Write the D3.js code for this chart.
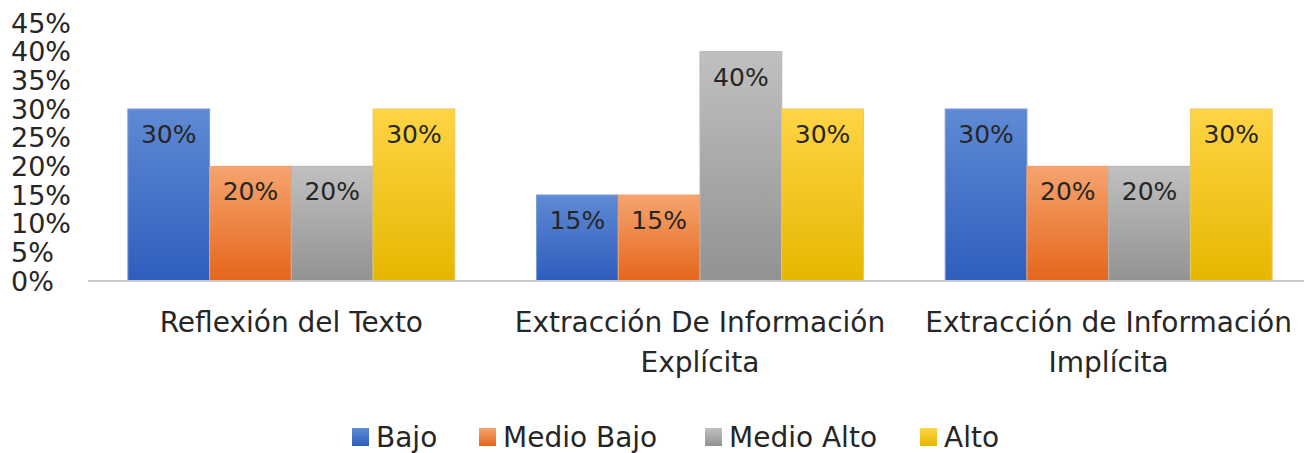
<!DOCTYPE html>
<html>
<head>
<meta charset="utf-8">
<script src="https://cdn.jsdelivr.net/npm/d3@7"></script>
<style>
  body { margin: 0; background: #fff; }
  text { font-family: "DejaVu Sans", sans-serif; fill: #262626; }
</style>
</head>
<body>
<div id="chart"></div>
<script>
// niveles de comprension lectora por dimension

var categories = [["Reflexión del Texto"], ["Extracción De Información", "Explícita"], ["Extracción de Información", "Implícita"]];
var series = ["Bajo", "Medio Bajo", "Medio Alto", "Alto"];
var bajo = [0.30, 0.15, 0.30];
var medioBajo = [0.20, 0.15, 0.20];
var medioAlto = [0.20, 0.40, 0.20];
var alto = [0.30, 0.30, 0.30];
var yTicks = [0, 0.05, 0.10, 0.15, 0.20, 0.25, 0.30, 0.35, 0.40, 0.45];

var param = {
    width: 1304,
    height: 453,
    left: 87,
    right: 1313,
    top: 23,
    base: 281,
    font: 25
};

var colors = [
    ["#5f8ad4", "#2e5dbd"],
    ["#f5a46f", "#e5661b"],
    ["#c0c0c0", "#929292"],
    ["#ffd445", "#e6b700"]
];
var strokes = ["#7a9ad8", "#f0a070", "#b4b4b4", "#e8c860"];

var values = [bajo, medioBajo, medioAlto, alto];

var svg = d3.select("#chart").append("svg")
    .attr("width", param.width)
    .attr("height", param.height);

var defs = svg.append("defs");
colors.forEach(function(c, i){
    var g = defs.append("linearGradient").attr("id", "grad" + i)
	.attr("x1", 0).attr("y1", 0).attr("x2", 0).attr("y2", 1);
    g.append("stop").attr("offset", "0%").attr("stop-color", c[0]);
    g.append("stop").attr("offset", "100%").attr("stop-color", c[1]);
});

var x0 = d3.scaleBand().domain(d3.range(categories.length))
    .range([param.left, param.right]).paddingInner(0.2).paddingOuter(0.1);
var x1 = d3.scaleBand().domain(d3.range(series.length))
    .range([0, x0.bandwidth()]);
var y = d3.scaleLinear().domain([0, 0.45]).range([param.base, param.top]);

// y tick labels (no lines)
svg.append("g").selectAll("text").data(yTicks).enter().append("text")
    .attr("x", 11)
    .attr("y", function(d){ return y(d); })
    .attr("dy", "0.36em")
    .style("font-size", "27px")
    .text(d3.format(".0%"));

// bars
var groups = svg.append("g").selectAll("g").data(categories).enter().append("g")
    .attr("transform", function(d, i){ return "translate(" + x0(i) + ",0)"; });

groups.each(function(cat, ci){
    var g = d3.select(this);
    series.forEach(function(s, si){
	var v = values[si][ci];
	g.append("rect")
	    .attr("x", x1(si))
	    .attr("y", y(v))
	    .attr("width", x1.bandwidth())
	    .attr("height", param.base - y(v))
	    .attr("fill", "url(#grad" + si + ")")
	    .attr("stroke", strokes[si])
	    .attr("stroke-width", 1);
	g.append("text")
	    .attr("x", x1(si) + x1.bandwidth() / 2)
	    .attr("y", y(v) + 34)
	    .attr("text-anchor", "middle")
	    .style("font-size", param.font + "px")
	    .text(d3.format(".0%")(v));
    });
});

// baseline
svg.append("line")
    .attr("x1", param.left + 1).attr("x2", param.width)
    .attr("y1", param.base).attr("y2", param.base)
    .attr("stroke", "#c8c8c8").attr("stroke-width", 2);

// category labels
var catText = svg.append("g").selectAll("text").data(categories).enter().append("text")
    .attr("x", function(d, i){ return x0(i) + x0.bandwidth() / 2; })
    .attr("y", 332)
    .attr("text-anchor", "middle")
    .style("font-size", "28px");
catText.selectAll("tspan").data(function(d){ return d; }).enter().append("tspan")
    .attr("x", function(){ return d3.select(this.parentNode).attr("x"); })
    .attr("dy", function(d, i){ return i ? 40 : 0; })
    .text(function(d){ return d; });

// legend
var legendX = [352, 479, 705, 920];
var legend = svg.append("g").selectAll("g").data(series).enter().append("g")
    .attr("transform", function(d, i){ return "translate(" + legendX[i] + ",428)"; });
legend.append("rect")
    .attr("width", 17).attr("height", 18)
    .attr("fill", function(d, i){ return "url(#grad" + i + ")"; });
legend.append("text")
    .attr("x", 24).attr("y", 9).attr("dy", "0.36em")
    .style("font-size", "28px")
    .text(function(d){ return d; });

// page number, cut off at the bottom
svg.append("text")
    .attr("x", 1190).attr("y", 471)
    .style("font-size", param.font + "px")
    .style("font-weight", "bold")
    .text("55");
</script>
</body>
</html>
